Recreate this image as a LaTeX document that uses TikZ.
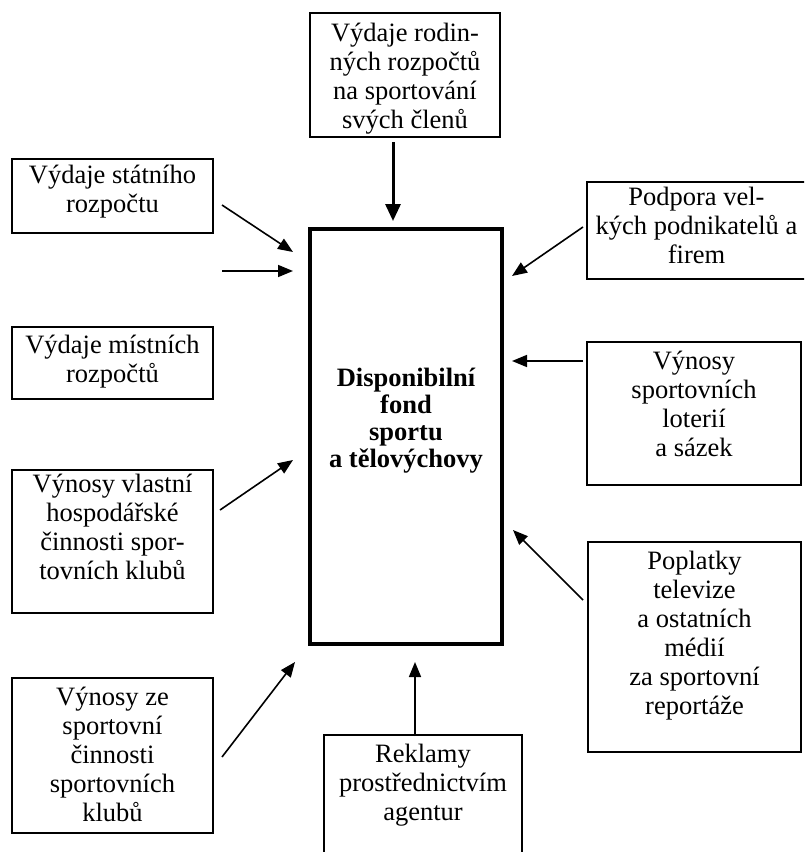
\documentclass[tikz,border=0pt]{standalone}
\usepackage{fontspec}
\setmainfont{Liberation Serif}
\usetikzlibrary{arrows.meta}
\usetikzlibrary{positioning}

\begin{document}
\begin{tikzpicture}[x=1pt, y=-1pt,
    box/.style={draw, line width=1.6pt, rectangle, anchor=north west, inner sep=0pt, outer sep=0pt},
    txt/.style={align=center, inner sep=0pt, font=\fontsize{26.5}{29}\selectfont},
    arr/.style={-{Triangle[length=15pt, width=12pt]}, line width=1.6pt}]
    \path[use as bounding box, clip] (0,0) rectangle (804,852);

    % draw central box
    \node[box, line width=4.5pt, minimum width=192pt, minimum height=415pt] (fund) at (310,229) {};
    \node[txt, font=\fontsize{26.5}{27}\selectfont\bfseries] (fundtext) at (406,421)
      {Disponibilní\\fond\\sportu\\a tělovýchovy};

    % draw source boxes
    \node[box, minimum width=190pt, minimum height=124pt] (top) at (310,13) {};
    \node[box, minimum width=201pt, minimum height=74pt]  (st)  at (12,159) {};
    \node[box, minimum width=201pt, minimum height=72pt]  (mi)  at (12,327) {};
    \node[box, minimum width=201pt, minimum height=143pt] (vl)  at (12,470) {};
    \node[box, minimum width=201pt, minimum height=155pt] (ze)  at (12,678) {};
    \node[box, minimum width=198pt, minimum height=130pt] (rek) at (324,735) {};
    \node[box, minimum width=219pt, minimum height=97pt]  (pod) at (587,182) {};
    \node[box, minimum width=214pt, minimum height=143pt] (lot) at (587,342) {};
    \node[box, minimum width=213pt, minimum height=210pt] (pop) at (588,542) {};

    % texts of the boxes
    \node[txt, below=10pt of top.north] (toptext) {Výdaje rodin-\\ných rozpočtů\\na sportování\\svých členů};
    \node[txt, below=6pt of st.north]   (sttext)  {Výdaje státního\\rozpočtu};
    \node[txt, below=8pt of mi.north]   (mitext)  {Výdaje místních\\rozpočtů};
    \node[txt, below=4pt of vl.north]   (vltext)  {Výnosy vlastní\\hospodářské\\činnosti spor-\\tovních klubů};
    \node[txt, below=9pt of ze.north]   (zetext)  {Výnosy ze\\sportovní\\činnosti\\sportovních\\klubů};
    \node[txt, below=9pt of rek.north]  (rektext) {Reklamy\\prostřednictvím\\agentur};
    \node[txt, below=5pt of pod.north]  (podtext) {Podpora vel-\\kých podnikatelů a\\firem};
    \node[txt, below=9pt of lot.north]  (lottext) {Výnosy\\sportovních\\loterií\\a sázek};
    \node[txt, below=9pt of pop.north]  (poptext) {Poplatky\\televize\\a ostatních\\médií\\za sportovní\\reportáže};

    % draw arrows
    \draw[arr, line width=3pt, -{Triangle[length=17pt, width=15pt]}]
      ([shift={(-12,5)}]top.south) -- ([shift={(-13,-8)}]fund.north);
    \draw[arr] ([shift={(9,9)}]st.east) -- ([shift={(-17,23)}]fund.north west);
    \draw[arr] ([shift={(9,38)}]st.south east) -- ([shift={(-17,42)}]fund.north west);
    \draw[arr] ([shift={(7,40)}]vl.north east) -- ([shift={(-17,23.5)}]fund.west);
    \draw[arr] ([shift={(9,1.5)}]ze.east) -- ([shift={(-15,18)}]fund.south west);
    \draw[arr] ([shift={(-8,1)}]rek.north) -- ([shift={(9,18)}]fund.south);
    \draw[arr] ([shift={(-4,-3.5)}]pod.west) -- ([shift={(10,47)}]fund.north east);
    \draw[arr] ([shift={(-4,19)}]lot.north west) -- ([shift={(10,132)}]fund.north east);
    \draw[arr] ([shift={(-5,58)}]pop.north west) -- ([shift={(11,93.5)}]fund.east);
\end{tikzpicture}
\end{document}
